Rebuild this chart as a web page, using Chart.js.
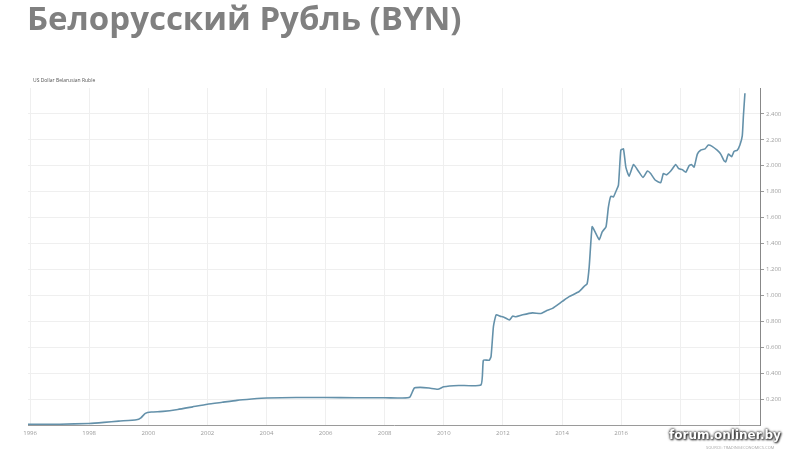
<!DOCTYPE html>
<html>
<head>
<meta charset="utf-8">
<script src="https://cdn.jsdelivr.net/npm/chart.js@4/dist/chart.umd.min.js"></script>
<style>
    body { margin: 0; background: #fff; }
    #wrap { position: relative; width: 800px; height: 458px; overflow: hidden; }
    #chart { position: absolute; left: 0; top: 0; }
    .title {
        position: absolute; left: 27px; top: -5px; margin: 0;
        font-family: 'Open Sans', sans-serif; font-weight: 700; font-size: 33px;
        color: #808080; white-space: nowrap;
    }
    .subtitle {
        position: absolute; left: 33px; top: 77px;
        font-family: 'Open Sans', sans-serif; font-size: 5px; color: #555;
    }
    .mark {
        position: absolute; left: 669px; top: 428px;
        font-family: 'DejaVu Sans', sans-serif; font-weight: 700; font-size: 12px;
        color: #fff; text-shadow: 0 0 3px #333, 0 0 2px #333, 1px 1px 2px #222;
    }
    .source {
        position: absolute; left: 706px; top: 445px;
        font-family: 'Open Sans', sans-serif; font-size: 4px; color: #aaa;
    }
</style>
</head>
<body>
<div id="wrap">
    <canvas id="chart" width="800" height="458"></canvas>
    <h1 class="title">Белорусский Рубль (BYN)</h1>
    <div class="subtitle">US Dollar Belarusian Ruble</div>
    <div class="mark">forum.onliner.by</div>
    <div class="source">SOURCE: TRADINGECONOMICS.COM</div>
</div>
<script>
// Time in decimal years, value of USD in BYN
const years = [
    1995.93, 1997.0, 1998.0, 1998.5, 1999.0, 1999.6, 1999.75, 1999.9, 2000.1, 2000.5,
    2001.0, 2001.5, 2002.0, 2002.5, 2003.0, 2003.5, 2004.0, 2005.0, 2006.0, 2007.0,
    2008.0, 2008.6, 2008.85, 2009.0, 2009.2, 2009.5, 2009.8, 2010.0, 2010.5, 2011.26,
    2011.34, 2011.54, 2011.6, 2011.68, 2011.77, 2011.9, 2012.05, 2012.22, 2012.33, 2012.44,
    2012.67, 2013.0, 2013.29, 2013.46, 2013.68, 2014.02, 2014.24, 2014.58, 2014.75, 2014.85,
    2014.92, 2015.02, 2015.12, 2015.26, 2015.36, 2015.49, 2015.57, 2015.65, 2015.74, 2015.82,
    2015.91, 2015.99, 2016.08, 2016.16, 2016.27, 2016.42, 2016.58, 2016.74, 2016.89, 2017.0,
    2017.15, 2017.34, 2017.43, 2017.53, 2017.68, 2017.85, 2017.94, 2018.07, 2018.19, 2018.3,
    2018.38, 2018.47, 2018.58, 2018.69, 2018.84, 2018.95, 2019.08, 2019.25, 2019.37, 2019.48,
    2019.54, 2019.63, 2019.74, 2019.82, 2019.93, 2020.02, 2020.1, 2020.14, 2020.19
];
const rates = [
    0.005, 0.006, 0.012, 0.02, 0.03, 0.04, 0.055, 0.09, 0.10, 0.105,
    0.12, 0.14, 0.16, 0.175, 0.19, 0.20, 0.208, 0.212, 0.212, 0.21,
    0.21, 0.208, 0.215, 0.285, 0.29, 0.285, 0.276, 0.295, 0.305, 0.31,
    0.50, 0.50, 0.53, 0.76, 0.85, 0.84, 0.83, 0.81, 0.84, 0.835,
    0.85, 0.865, 0.86, 0.88, 0.90, 0.955, 0.99, 1.03, 1.07, 1.09,
    1.22, 1.53, 1.49, 1.43, 1.49, 1.53, 1.68, 1.765, 1.76, 1.80,
    1.85, 2.12, 2.13, 1.99, 1.92, 2.01, 1.96, 1.91, 1.96, 1.94,
    1.89, 1.87, 1.94, 1.93, 1.96, 2.01, 1.98, 1.97, 1.95, 2.00,
    2.01, 1.99, 2.09, 2.12, 2.13, 2.16, 2.15, 2.12, 2.09, 2.04,
    2.03, 2.09, 2.07, 2.11, 2.12, 2.16, 2.23, 2.39, 2.56
];
const yearTicks = [1996, 1998, 2000, 2002, 2004, 2006, 2008, 2010, 2012, 2014, 2016, 2018, 2020];
const rateTicks = [0.2, 0.4, 0.6, 0.8, 1.0, 1.2, 1.4, 1.6, 1.8, 2.0, 2.2, 2.4];

const points = years.map((y, i) => ({ x: y, y: rates[i] }));

new Chart(document.getElementById('chart'), {
    type: 'line',
    data: {
        datasets: [{
            data: points,
            borderColor: '#6491aa',
            borderWidth: 1.6,
            pointRadius: 0,
            tension: 0.15,
            fill: false
        }]
    },
    options: {
        responsive: false,
        animation: false,
        layout: { padding: { left: 28, top: 88, right: 0, bottom: 0 } },
        plugins: { legend: { display: false }, tooltip: { enabled: false } },
        scales: {
            x: {
                type: 'linear',
                min: 1995.93,
                max: 2020.7,
                afterBuildTicks: scale => { scale.ticks = yearTicks.map(v => ({ value: v })); },
                afterFit: scale => { scale.height = 33; },
                grid: { color: '#efefef', drawTicks: false },
                border: { color: '#9a9a9a', width: 1 },
                ticks: {
                    color: '#9a9a9a',
                    font: { size: 6, family: 'Open Sans' },
                    padding: 5,
                    maxRotation: 0,
                    callback: v => String(v)
                }
            },
            y: {
                position: 'right',
                min: 0,
                max: 2.6,
                afterBuildTicks: scale => { scale.ticks = rateTicks.map(v => ({ value: v })); },
                afterFit: scale => { scale.width = 40; },
                grid: { color: '#efefef', tickLength: 4, tickColor: '#9a9a9a' },
                border: { color: '#888', width: 1 },
                ticks: {
                    color: '#a0a0a0',
                    font: { size: 6, family: 'Open Sans' },
                    padding: 2,
                    callback: v => v.toFixed(3)
                }
            }
        }
    }
});
</script>
</body>
</html>
